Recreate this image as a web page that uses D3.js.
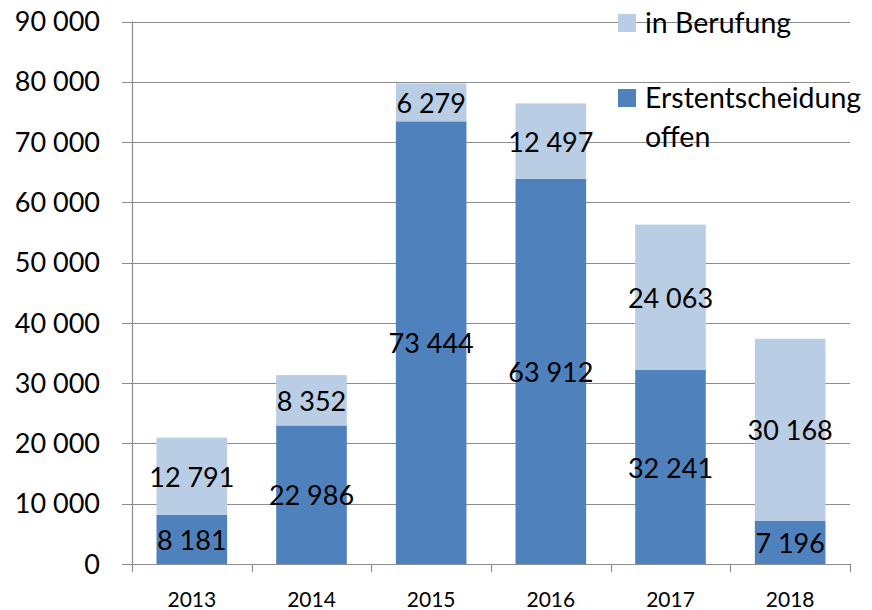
<!DOCTYPE html>
<html>
<head>
<meta charset="utf-8">
<script src="https://cdn.jsdelivr.net/npm/d3@7"></script>
<style>
  html, body { margin: 0; padding: 0; background: #fff; }
  svg { display: block; font-family: Lato, "Open Sans", sans-serif; }
</style>
</head>
<body>
<svg id="chart" width="872" height="610"></svg>
<script>
const years = ["2013", "2014", "2015", "2016", "2017", "2018"];
const erstentscheidung = [8181, 22986, 73444, 63912, 32241, 7196];
const berufung = [12791, 8352, 6279, 12497, 24063, 30168];
const yTicks = [0, 10000, 20000, 30000, 40000, 50000, 60000, 70000, 80000, 90000];
const seriesNames = ["Erstentscheidung offen", "in Berufung"];
const colors = ["#4F81BD", "#B9CDE5"];

const svg = d3.select("#chart");
const mLeft = 132, mRight = 850, mTop = 21.5, mBottom = 564;

const x = d3.scaleBand().domain(years).range([mLeft, mRight]).paddingInner(0.41).paddingOuter(0.205);
const xb = d3.scaleBand().domain(years).range([mLeft, mRight]);
const y = d3.scaleLinear().domain([0, 90000]).range([mBottom, mTop]);

const fmt = v => d3.format(",")(v).replace(/,/g, " ");
const gridColor = "#8c8c8c";

// gridlines
svg.append("g").selectAll("line").data(yTicks).join("line")
  .attr("x1", 122).attr("x2", mRight)
  .attr("y1", d => Math.round(y(d)) + 0.5).attr("y2", d => Math.round(y(d)) + 0.5)
  .attr("stroke", gridColor).attr("stroke-width", 1.2);

// y axis line
svg.append("line").attr("x1", mLeft + 0.5).attr("x2", mLeft + 0.5)
  .attr("y1", y(90000)).attr("y2", mBottom + 0.5)
  .attr("stroke", gridColor).attr("stroke-width", 1.2);

// x ticks at band boundaries
const bounds = years.map(d => xb(d)).concat([mRight]);
svg.append("g").selectAll("line").data(bounds).join("line")
  .attr("x1", d => Math.round(d) + 0.5).attr("x2", d => Math.round(d) + 0.5)
  .attr("y1", mBottom).attr("y2", mBottom + 8)
  .attr("stroke", gridColor).attr("stroke-width", 1.2);

// y labels
svg.append("g").selectAll("text").data(yTicks).join("text")
  .attr("x", 100).attr("y", d => y(d))
  .attr("dy", "0.36em")
  .attr("text-anchor", "end")
  .attr("font-size", 27).attr("fill", "#000")
  .text(d => fmt(d));

// x labels
svg.append("g").selectAll("text").data(years).join("text")
  .attr("x", d => x(d) + x.bandwidth() / 2).attr("y", 607)
  .attr("text-anchor", "middle")
  .attr("font-size", 21).attr("fill", "#000")
  .text(d => d);

// stacked data
const table = years.map((yr, i) => ({ year: yr, e: erstentscheidung[i], b: berufung[i] }));
const stack = d3.stack().keys(["e", "b"])(table);

const layers = svg.append("g").selectAll("g").data(stack).join("g")
  .attr("fill", (d, i) => colors[i]);
layers.selectAll("rect").data(d => d).join("rect")
  .attr("x", d => x(d.data.year))
  .attr("width", x.bandwidth())
  .attr("y", d => y(d[1]))
  .attr("height", d => y(d[0]) - y(d[1]));

// value labels
const lbl = svg.append("g");
stack.forEach(layer => {
  layer.forEach(d => {
    lbl.append("text")
      .attr("x", x(d.data.year) + x.bandwidth() / 2)
      .attr("y", (y(d[0]) + y(d[1])) / 2 + 1)
      .attr("dy", "0.36em")
      .attr("text-anchor", "middle")
      .attr("font-size", 27).attr("fill", "#000")
      .text(fmt(d[1] - d[0]));
  });
});

// legend
const lg = svg.append("g");
lg.append("rect").attr("x", 618).attr("y", 14).attr("width", 18).attr("height", 18).attr("fill", colors[1]);
lg.append("text").attr("x", 645).attr("y", 32.5).attr("font-size", 28.5).text("in Berufung");
lg.append("rect").attr("x", 618).attr("y", 89).attr("width", 18).attr("height", 18).attr("fill", colors[0]);
lg.append("text").attr("x", 645).attr("y", 108).attr("font-size", 28.5).text("Erstentscheidung");
lg.append("text").attr("x", 645).attr("y", 146.5).attr("font-size", 28.5).text("offen");
</script>
</body>
</html>
